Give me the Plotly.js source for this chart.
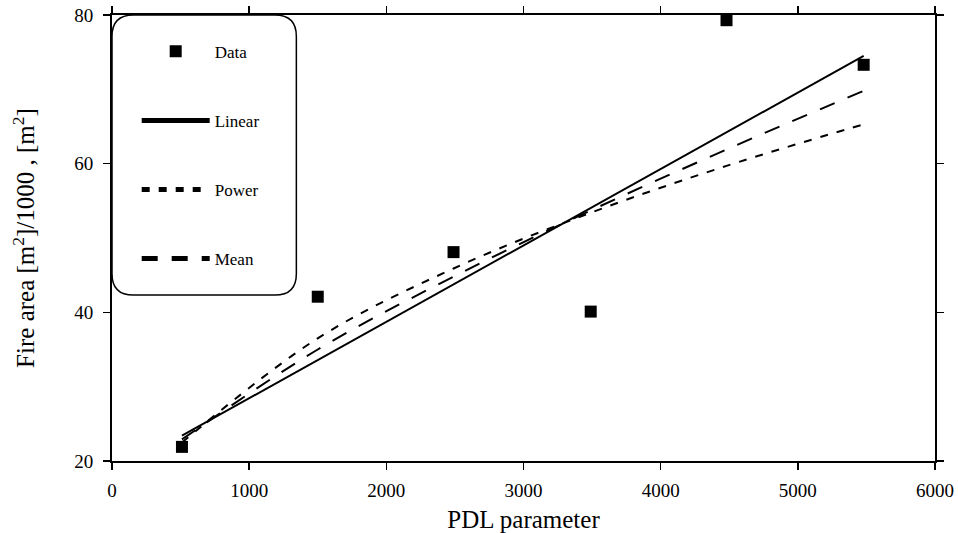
<!DOCTYPE html>
<html>
<head>
<meta charset="utf-8">
<script src="https://cdn.plot.ly/plotly-3.0.1.min.js"></script>
<style>html,body{margin:0;padding:0;background:#fff;}#chart{width:958px;height:533px;}</style>
</head>
<body>
<div id="chart"></div>
<script>
// Data
var dataX = [510, 1500, 2490, 3490, 4480, 5480];
var dataY = [21.9, 42.1, 48.1, 40.1, 79.3, 73.3];

var fitX = [510, 1500, 2490, 3490, 4480, 5480];
var linearY = [23.4, 33.6, 43.8, 54.0, 64.2, 74.5];
var powerY = [22.5, 36.5, 45.9, 53.4, 59.7, 65.3];
var meanY = [22.9, 35.0, 44.8, 53.7, 61.9, 69.8];

var xTicks = [0, 1000, 2000, 3000, 4000, 5000, 6000];
var yTicks = [20, 40, 60, 80];

var serif = "Liberation Serif, Times New Roman, serif";

var traces = [
  {x: dataX, y: dataY, type: 'scatter', mode: 'markers', name: 'Data', legendgroup: 'a',
   marker: {symbol: 'square', size: 12, color: '#000'}},
  {x: fitX, y: linearY, type: 'scatter', mode: 'lines', name: 'Linear', legendgroup: 'b',
   line: {color: '#000', width: 2}},
  {x: fitX, y: powerY, type: 'scatter', mode: 'lines', name: 'Power', legendgroup: 'c',
   line: {color: '#000', width: 2, dash: '8px,9px', shape: 'spline'}},
  {x: fitX, y: meanY, type: 'scatter', mode: 'lines', name: 'Mean', legendgroup: 'd',
   line: {color: '#000', width: 2, dash: '16px,14px', shape: 'spline'}}
];

// rounded legend box in paper coordinates
var x0 = 0.0, x1 = 0.224, y0 = 0.372, y1 = 1.0, rx = 0.026, ry = 0.048;
var boxPath = 'M' + (x0 + rx) + ',' + y1 + ' L' + (x1 - rx) + ',' + y1 +
  ' Q' + x1 + ',' + y1 + ' ' + x1 + ',' + (y1 - ry) +
  ' L' + x1 + ',' + (y0 + ry) + ' Q' + x1 + ',' + y0 + ' ' + (x1 - rx) + ',' + y0 +
  ' L' + (x0 + rx) + ',' + y0 + ' Q' + x0 + ',' + y0 + ' ' + x0 + ',' + (y0 + ry) +
  ' L' + x0 + ',' + (y1 - ry) + ' Q' + x0 + ',' + y1 + ' ' + (x0 + rx) + ',' + y1 + ' Z';

var layout = {
  width: 958, height: 533,
  margin: {l: 112, r: 23, t: 15, b: 72},
  paper_bgcolor: '#fff', plot_bgcolor: '#fff',
  font: {family: serif, color: '#000'},
  showlegend: true,
  legend: {
    x: 0.030, y: 0.958, xanchor: 'left', yanchor: 'top',
    bgcolor: 'rgba(0,0,0,0)', borderwidth: 0,
    font: {family: serif, size: 17, color: '#000'},
    tracegroupgap: 44, itemwidth: 68, itemsizing: 'constant'
  },
  xaxis: {
    range: [0, 6000], tickvals: xTicks, ticktext: xTicks.map(String),
    showgrid: false, zeroline: false,
    showline: true, linecolor: '#000', linewidth: 2, mirror: 'ticks',
    ticks: 'outside', ticklen: 7, tickwidth: 1.5, tickcolor: '#000',
    ticklabelstandoff: 4,
    tickfont: {family: serif, size: 19, color: '#000'},
    title: {text: 'PDL parameter', font: {family: serif, size: 25, color: '#000'}, standoff: 12}
  },
  yaxis: {
    range: [20, 80], tickvals: yTicks, ticktext: yTicks.map(String),
    showgrid: false, zeroline: false,
    showline: true, linecolor: '#000', linewidth: 2, mirror: 'ticks',
    ticks: 'outside', ticklen: 7, tickwidth: 1.5, tickcolor: '#000',
    ticklabelstandoff: 6,
    tickfont: {family: serif, size: 19, color: '#000'},
    title: {text: 'Fire area [m<sup>2</sup>]/1000 , [m<sup>2</sup>]', font: {family: serif, size: 25, color: '#000'}, standoff: 32}
  },
  shapes: [{type: 'path', xref: 'paper', yref: 'paper', path: boxPath,
    line: {color: '#000', width: 1.5}, fillcolor: 'rgba(0,0,0,0)', layer: 'above'}]
};

Plotly.newPlot('chart', traces, layout, {displayModeBar: false, staticPlot: true});
</script>
</body>
</html>
